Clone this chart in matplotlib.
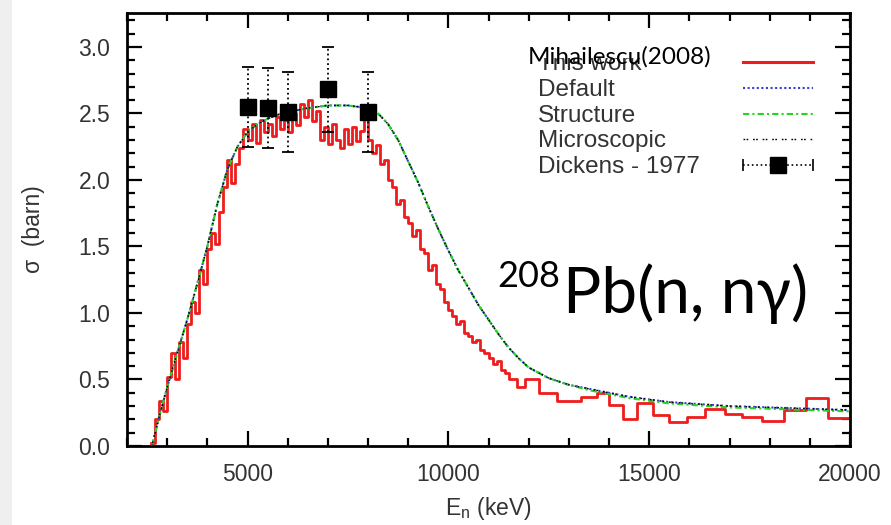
import matplotlib.pyplot as plt
from matplotlib.patches import Rectangle
from matplotlib.ticker import MultipleLocator
import numpy as np


# Mihailescu (2008) measurement, histogram: fine 100 keV bins then coarse bins
exp_fine_energy = np.arange(2600, 11500, 100)
exp_fine_sigma = [
    0.02, 0.20, 0.34, 0.26, 0.52, 0.70, 0.50, 0.78, 0.66, 0.92,
    1.08, 1.00, 1.32, 1.22, 1.48, 1.60, 1.52, 1.76, 1.95, 2.15,
    1.98, 2.12, 2.24, 2.38, 2.30, 2.42, 2.28, 2.45, 2.36, 2.42,
    2.33, 2.47, 2.38, 2.45, 2.36, 2.50, 2.41, 2.57, 2.47, 2.60,
    2.44, 2.52, 2.30, 2.40, 2.27, 2.42, 2.30, 2.24, 2.38, 2.27,
    2.40, 2.29, 2.37, 2.55, 2.30, 2.20, 2.26, 2.12, 2.15, 2.00,
    1.95, 1.82, 1.85, 1.72, 1.68, 1.58, 1.62, 1.48, 1.45, 1.32,
    1.36, 1.22, 1.18, 1.08, 1.02, 0.98, 0.92, 0.94, 0.85, 0.83,
    0.78, 0.80, 0.72, 0.70, 0.66, 0.62, 0.64, 0.57, 0.55,
]
exp_coarse_energy = [11500, 11700, 11900, 12250, 12700, 13300, 13700, 14000,
                     14350, 14700, 15100, 15500, 15950, 16400, 16900, 17300,
                     17800, 18350, 18900, 19450, 20000]
exp_coarse_sigma = [0.50, 0.44, 0.50, 0.40, 0.34, 0.37, 0.40, 0.31,
                    0.20, 0.32, 0.23, 0.18, 0.22, 0.28, 0.24, 0.22,
                    0.19, 0.27, 0.36, 0.21, 0.21]

# model curves (This work)
model_energy = [2620, 2800, 3000, 3250, 3500, 3750, 4000, 4250, 4500, 4750,
                5000, 5250, 5500, 5750, 6000, 6500, 7000, 7500, 8000, 8250,
                8500, 8750, 9000, 9250, 9500, 9750, 10000, 10250, 10500, 10750,
                11000, 11250, 11500, 11750, 12000, 12500, 13000, 13500, 14000, 14500,
                15000, 15500, 16000, 17000, 18000, 19000, 20000]
default_sigma = [0.00, 0.22, 0.44, 0.70, 0.95, 1.22, 1.50, 1.82, 2.08, 2.25,
                 2.36, 2.42, 2.46, 2.49, 2.51, 2.54, 2.56, 2.56, 2.54, 2.50,
                 2.42, 2.30, 2.14, 1.98, 1.80, 1.63, 1.47, 1.32, 1.19, 1.06,
                 0.95, 0.84, 0.74, 0.66, 0.59, 0.51, 0.46, 0.43, 0.40, 0.37,
                 0.35, 0.33, 0.32, 0.30, 0.29, 0.28, 0.27]
structure_sigma = [0.00, 0.22, 0.44, 0.70, 0.95, 1.22, 1.50, 1.82, 2.08, 2.25,
                   2.36, 2.42, 2.46, 2.49, 2.51, 2.54, 2.56, 2.56, 2.54, 2.50,
                   2.42, 2.30, 2.14, 1.98, 1.80, 1.63, 1.47, 1.32, 1.19, 1.06,
                   0.95, 0.84, 0.74, 0.66, 0.59, 0.51, 0.46, 0.42, 0.39, 0.36,
                   0.34, 0.32, 0.31, 0.29, 0.28, 0.27, 0.26]
microscopic_sigma = [0.00, 0.22, 0.44, 0.70, 0.95, 1.22, 1.50, 1.82, 2.08, 2.25,
                     2.36, 2.42, 2.46, 2.49, 2.51, 2.54, 2.56, 2.56, 2.54, 2.50,
                     2.42, 2.30, 2.14, 1.98, 1.80, 1.63, 1.47, 1.32, 1.19, 1.06,
                     0.95, 0.84, 0.74, 0.66, 0.59, 0.51, 0.46, 0.43, 0.40, 0.37,
                     0.35, 0.33, 0.32, 0.30, 0.29, 0.28, 0.27]

# Dickens - 1977
dickens_energy = [5000, 5500, 6000, 7000, 8000]
dickens_sigma = [2.55, 2.54, 2.51, 2.68, 2.51]
dickens_err = [0.30, 0.30, 0.30, 0.32, 0.30]

RED = "#ee1c1c"
BLUE = "#3c3cd8"
GREEN = "#22d622"
TEXT_GRAY = "#333333"
HUMANIST = ["Lato", "Open Sans", "DejaVu Sans"]
MICRO_LS = (0, (1.2, 1.0, 1.2, 3.5))

plt.rcParams["font.family"] = ["Liberation Sans", "DejaVu Sans"]
plt.rcParams["mathtext.fontset"] = "custom"
plt.rcParams["mathtext.rm"] = "Liberation Sans"
plt.rcParams["mathtext.it"] = "Liberation Sans"

fig = plt.figure(figsize=(8.91, 5.25), dpi=100, facecolor="white")
fig.patches.append(Rectangle((0, 0), 12 / 891, 1, transform=fig.transFigure,
                             facecolor="#efefef", edgecolor="none", zorder=0))
ax = fig.add_axes([127 / 891, 1 - 446 / 525, 723 / 891, 433 / 525])

exp_energy = np.concatenate([exp_fine_energy, exp_coarse_energy])
exp_sigma = np.concatenate([exp_fine_sigma, exp_coarse_sigma])
ax.plot(exp_energy, exp_sigma, drawstyle="steps-post", color=RED, lw=2.0, zorder=2)

ax.plot(model_energy, default_sigma, color=BLUE, lw=1.5, ls=(0, (1, 1.2)), zorder=3)
ax.plot(model_energy, structure_sigma, color=GREEN, lw=1.5, ls=(0, (3, 1.5, 1, 1.5)), zorder=3)
ax.plot(model_energy, microscopic_sigma, color="black", lw=1.0, ls=MICRO_LS, zorder=3)

eb = ax.errorbar(dickens_energy, dickens_sigma, yerr=dickens_err, fmt="s",
                 color="black", ms=11, capsize=4, elinewidth=1.3, capthick=1.3, zorder=4)
for line in eb[2]:
    line.set_linestyle(":")

ax.set_xlim(2000, 20000)
ax.set_ylim(0, 3.255)
ax.xaxis.set_major_locator(MultipleLocator(5000))
ax.xaxis.set_minor_locator(MultipleLocator(1000))
ax.yaxis.set_major_locator(MultipleLocator(0.5))
ax.yaxis.set_minor_locator(MultipleLocator(0.1))
ax.yaxis.set_major_formatter(plt.FormatStrFormatter("%.1f"))
ax.tick_params(which="both", direction="in", top=True, right=True,
               labelsize=16.5, labelcolor=TEXT_GRAY, pad=12)
ax.tick_params(which="major", length=11, width=1.6)
ax.tick_params(which="minor", length=5.5, width=1.6)
for s in ax.spines.values():
    s.set_linewidth(2.0)

ax.set_xlabel(r"E$_\mathregular{n}$ (keV)", fontsize=16.5, color=TEXT_GRAY, labelpad=7)
ax.set_ylabel("σ  (barn)", fontsize=16.5, color=TEXT_GRAY, labelpad=24)

# hand-placed legend (left aligned labels, samples on the right)
labels = ["This work", "Default", "Structure", "Microscopic", "Dickens - 1977"]
baselines = [0.868, 0.809, 0.749, 0.690, 0.630]
x_text, x0, x1 = 0.5685, 0.852, 0.949
styles = [
    dict(color=RED, lw=2.2, ls="-"),
    dict(color=BLUE, lw=1.5, ls=(0, (1, 1.2))),
    dict(color=GREEN, lw=1.5, ls=(0, (3, 1.5, 1, 1.5))),
    dict(color="black", lw=1.0, ls=MICRO_LS),
    dict(color="black", lw=1.2, ls=":"),
]
for label, yb, st in zip(labels, baselines, styles):
    ax.text(x_text, yb, label, transform=ax.transAxes, fontsize=17.5,
            color=TEXT_GRAY, va="baseline", ha="left", zorder=5)
    yh = yb + 0.018
    ax.plot([x0, x1], [yh, yh], transform=ax.transAxes, clip_on=False, zorder=5, **st)
yh = baselines[-1] + 0.018
ax.plot([(x0 + x1) / 2], [yh], "s", color="black", ms=11, transform=ax.transAxes,
        clip_on=False, zorder=6)
ax.plot([x0, x1], [yh, yh], "|", color="black", ms=8, mew=1.2,
        transform=ax.transAxes, clip_on=False, zorder=6)

# overlay label covering the top of "This work"
ax.add_patch(Rectangle((0.552, 0.897), 0.26, 0.055, transform=ax.transAxes,
                       facecolor="white", edgecolor="none", zorder=6))
ax.text(0.5546, 0.884, "Mihailescu(2008)", transform=ax.transAxes, fontsize=17.5,
        family=HUMANIST, color="black", va="baseline", ha="left", zorder=7)

ax.text(0.512, 0.367, "208", transform=ax.transAxes, fontsize=26,
        family=HUMANIST, color="black", va="baseline", ha="left", zorder=7)
ax.text(0.603, 0.307, "Pb(n, nγ)", transform=ax.transAxes, fontsize=46,
        family=HUMANIST, color="black", va="baseline", ha="left", zorder=7)

fig.savefig("out.png", dpi=100, facecolor=fig.get_facecolor())
